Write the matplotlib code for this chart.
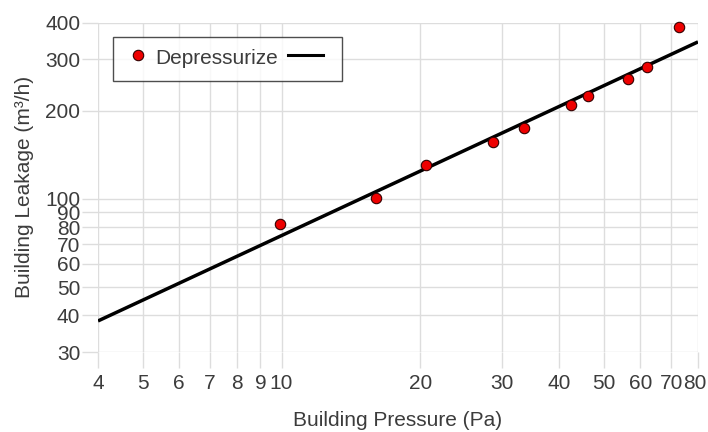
import matplotlib
matplotlib.use("Agg")
import matplotlib.pyplot as plt
from matplotlib.lines import Line2D
from matplotlib.transforms import ScaledTranslation

plt.rcParams['font.family'] = ['Liberation Sans', 'DejaVu Sans']

# Data
pressure = [9.9, 16.0, 20.6, 28.7, 33.5, 42.4, 46.3, 56.3, 62.0, 72.8]
leakage = [81.8, 100.9, 130.8, 156.0, 174.6, 209.0, 224.0, 256.0, 281.5, 387.7]
fit_x = [4, 80]
fit_y = [38.3, 344.0]
x_ticks = [4, 5, 6, 7, 8, 9, 10, 20, 30, 40, 50, 60, 70, 80]
y_ticks = [30, 40, 50, 60, 70, 80, 90, 100, 200, 300, 400]
series_label = "Depressurize"

text_color = "#3c3c3c"
grid_color = "#dddddd"
fs = 15

fig = plt.figure(figsize=(7.08, 4.32), dpi=100)
ax = fig.add_axes([98/708, 1-352/432, 600/708, (352-22.7)/432])
ax.set_xscale('log')
ax.set_yscale('log')
ax.set_xlim(4, 80)
ax.set_ylim(30, 400)

ax.set_xticks(x_ticks)
ax.set_xticklabels([str(t) for t in x_ticks])
ax.set_yticks(y_ticks)
ax.set_yticklabels([str(t) for t in y_ticks])
ax.minorticks_off()
ax.grid(True, color=grid_color, linewidth=1.0, zorder=0)
for s in ax.spines.values():
    s.set_visible(False)
ax.tick_params(axis='both', which='major', length=11.5, width=1.0, color=grid_color,
               labelcolor=text_color, labelsize=fs)
ax.tick_params(axis='x', pad=4)
ax.tick_params(axis='y', pad=1.2)

# nudge the last x tick label slightly left so it stays inside the figure
last_lbl = ax.get_xticklabels()[-1]
last_lbl.set_transform(last_lbl.get_transform() + ScaledTranslation(-3/100, 0, fig.dpi_scale_trans))

ax.plot(fit_x, fit_y, color='black', linewidth=2.5, solid_capstyle='butt', zorder=3)
ax.plot(pressure, leakage, linestyle='none', marker='o', markersize=7.5,
        markerfacecolor='#ee0000', markeredgecolor='#330000', markeredgewidth=0.8,
        zorder=4, clip_on=False)

ax.set_xlabel("Building Pressure (Pa)", color=text_color, fontsize=fs, labelpad=13)
ax.set_ylabel("Building Leakage (m³/h)", color=text_color, fontsize=fs, labelpad=8)

h1 = Line2D([], [], linestyle='none', marker='o', markersize=7.5,
            markerfacecolor='#ee0000', markeredgecolor='#330000', markeredgewidth=0.8)
h2 = Line2D([], [], color='black', linewidth=2.2)
leg = ax.legend([h1, h2], [series_label, "  "], ncol=2, loc='upper left',
                bbox_to_anchor=(15.3/600, 1-(37.3-22.7)/329.3), borderaxespad=0,
                frameon=True, fancybox=False,
                edgecolor='#222222', fontsize=fs, handlelength=1.68, handleheight=1.8,
                handletextpad=0.0, columnspacing=0.5, borderpad=0.33)
leg.get_frame().set_linewidth(1.0)
for txt in leg.get_texts():
    txt.set_color(text_color)
try:
    for col in leg._legend_handle_box.get_children():
        for row in col.get_children():
            row.align = "center"
except Exception:
    pass

fig.savefig("out.png", dpi=100)
